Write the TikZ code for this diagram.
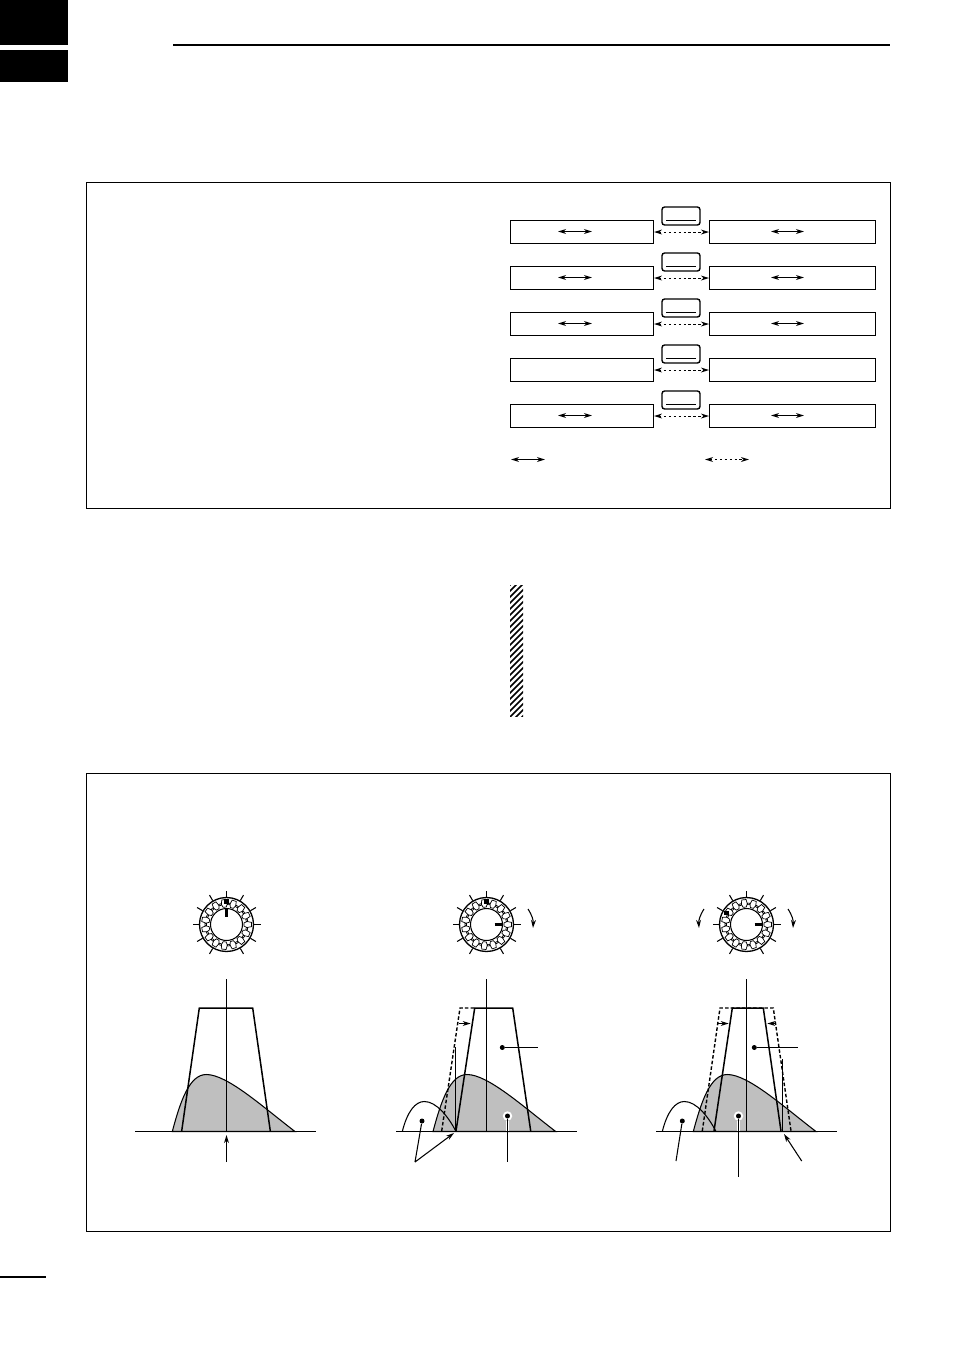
\documentclass[tikz,border=0pt]{standalone}
\usepackage{tikz}
\usetikzlibrary{arrows.meta, positioning}

\tikzset{
  rowbox/.style={draw, rectangle, anchor=north west, inner sep=0pt, line width=.6pt, minimum height=.46cm},
  keybox/.style={draw, rectangle, rounded corners=1.5pt, inner sep=0pt, line width=.8pt, minimum width=.76cm, minimum height=.36cm},
  framebox/.style={draw, rectangle, anchor=north west, inner sep=0pt, line width=.6pt, minimum width=16.08cm},
  dotmark/.style={circle, fill, inner sep=0pt, minimum size=.1cm},
  halomark/.style={circle, fill=white, inner sep=0pt, minimum size=.19cm},
  fine/.style={line width=.6pt},
  edgeline/.style={line width=.85pt},
  dashline/.style={line width=.8pt, dash pattern=on 2pt off 1.2pt},
  dotline/.style={line width=.6pt, dash pattern=on 1.4pt off 1.4pt},
  tip/.style={>={Stealth[length=4.6pt,width=2.8pt]}},
  humpfill/.style={fill=black!25, draw, line width=.6pt},
  wave/.style={line width=.4pt}
}

\begin{document}
\begin{tikzpicture}[x=.02cm, y=-.02cm, tip]
\useasboundingbox (0,0) rectangle (954,1349);

\fill (0,0) rectangle (68,45);
\fill (0,50) rectangle (68,82);
\coordinate (rulea) at (173,45);
\coordinate (ruleb) at (890,45);
\draw[line width=1.2pt] (rulea) -- (ruleb);
\coordinate (foota) at (0,1277);
\coordinate (footb) at (46,1277);
\draw[line width=1.2pt] (foota) -- (footb);

\node[framebox, minimum height=6.52cm] (frametop) at (86,182) {};
\node[framebox, minimum height=9.16cm] (framelow) at (86,773) {};

\foreach \nm/\ty in {a/220,b/266,c/312,d/358,e/404} {
  \node[rowbox, minimum width=2.86cm] (left\nm) at (510,\ty) {};
  \node[rowbox, minimum width=3.32cm] (right\nm) at (709,\ty) {};
  \node[keybox] (key\nm) at (681,\ty-4) {};
  \coordinate (keya\nm) at (666,\ty+.5);
  \coordinate (keyb\nm) at (696,\ty+.5);
  \draw[fine] (keya\nm) -- (keyb\nm);
  \draw[dotline, <->] (left\nm) -- (right\nm);
}
\foreach \nm/\ty in {a/220,b/266,c/312,e/404} {
  \coordinate (lefta\nm) at (558,\ty+11.5);
  \coordinate (leftb\nm) at (592,\ty+11.5);
  \coordinate (righta\nm) at (771,\ty+11.5);
  \coordinate (rightb\nm) at (804,\ty+11.5);
  \draw[fine, <->] (lefta\nm) -- (leftb\nm);
  \draw[fine, <->] (righta\nm) -- (rightb\nm);
}
\coordinate (legenda) at (511,459.5);
\coordinate (legendb) at (545,459.5);
\coordinate (legendc) at (705,459.5);
\coordinate (legendd) at (749,459.5);
\draw[fine, <->] (legenda) -- (legendb);
\draw[dotline, <->] (legendc) -- (legendd);

\begin{scope}
\clip (510,585) rectangle (523,716);
\foreach \hy in {585,591,...,740} {
  \draw[line width=.85pt] (505,\hy+5) -- (528,\hy-18);
}
\end{scope}

\foreach \cx/\nm/\mk/\pk in {226.5/a/-90/-90,486.5/b/-90/0,746.5/c/-150/0} {
  \begin{scope}[shift={(\cx,924.5)}]
    \node[circle, draw, line width=.75pt, inner sep=0pt, minimum size=1.08cm] (outer\nm) at (0,0) {};
    \node[circle, draw, line width=.6pt, inner sep=0pt, minimum size=.64cm] (inner\nm) at (0,0) {};
    \draw[wave] (-5:25)
      \foreach \ag in {0,24,...,336} { -- (\ag-5:25) -- (\ag+5:25) -- (\ag+9:20) -- (\ag+15:20) } -- cycle;
    \draw[wave] (9:21.5)
      \foreach \ag in {0,24,...,336} { -- (\ag+9:21.5) -- (\ag+15:21.5) -- (\ag+19:17.5) -- (\ag+29:17.5) } -- cycle;
    \foreach \tk in {0,30,60,90,120,150,180,210,240,300,330} {
      \coordinate (tick\nm\tk) at (-\tk:34);
      \draw[fine] (outer\nm.\tk) -- (tick\nm\tk);
    }
    \node[fill, inner sep=0pt, minimum size=.09cm] (mark\nm) at (\mk:23) {};
    \coordinate (pointa\nm) at (\pk:8);
    \coordinate (pointb\nm) at (\pk:16);
    \draw[line width=1.7pt] (pointa\nm) -- (pointb\nm);
  \end{scope}
}
\coordinate (turnba) at (528,909);
\coordinate (turnbb) at (533,928);
\coordinate (turnca) at (704,909);
\coordinate (turncb) at (699,928);
\coordinate (turncc) at (788,909);
\coordinate (turncd) at (793,928);
\draw[fine, ->] (turnba) to[bend left=18] (turnbb);
\draw[fine, ->] (turnca) to[bend right=18] (turncb);
\draw[fine, ->] (turncc) to[bend left=18] (turncd);

\foreach \hx in {172.3,433,693.3} {
  \draw[humpfill, shift={(\hx,1131.5)}] (0,0) .. controls (8,-30) and (17,-57) .. (34,-57)
    .. controls (55,-57) and (90,-25) .. (122.7,0) -- cycle;
}
\foreach \hx in {402.3,662.3} {
  \draw[fine, shift={(\hx,1131.5)}] (0,0) .. controls (5,-20) and (13,-30) .. (22,-30)
    .. controls (34,-30) and (46,-15) .. (53.7,0);
}

\draw[edgeline] (181.7,1131) -- (199.3,1008) -- (252.7,1008) -- (270.3,1131);
\draw[dashline] (441.7,1131) -- (460,1008) -- (474.7,1008);
\draw[edgeline] (456,1131) -- (474.7,1008) -- (512.7,1008) -- (530.7,1131);
\draw[dashline] (702.3,1131) -- (720,1008) -- (773.3,1008) -- (791,1131);
\draw[edgeline] (714,1131) -- (732.3,1008) -- (763.3,1008) -- (781,1131);

\coordinate (vertaa) at (226.5,979);
\coordinate (vertab) at (226.5,1131);
\coordinate (vertba) at (486.5,979);
\coordinate (vertbb) at (486.5,1131);
\coordinate (vertca) at (746.5,979);
\coordinate (vertcb) at (746.5,1131);
\coordinate (vertda) at (455.5,1047);
\coordinate (vertdb) at (455.5,1131);
\coordinate (vertea) at (782.5,1059);
\coordinate (verteb) at (782.5,1131);
\draw[fine] (vertaa) -- (vertab);
\draw[fine] (vertba) -- (vertbb);
\draw[fine] (vertca) -- (vertcb);
\draw[fine] (vertda) -- (vertdb);
\draw[fine] (vertea) -- (verteb);

\node[halomark] (halob) at (507.5,1116) {};
\node[halomark] (haloc) at (738.5,1116) {};
\coordinate (halobend) at (507.5,1131);
\coordinate (halocend) at (738.5,1131);
\draw[white, line width=2pt] (halob) -- (halobend);
\draw[white, line width=2pt] (haloc) -- (halocend);

\coordinate (axisaa) at (135,1131.5);
\coordinate (axisab) at (316,1131.5);
\coordinate (axisba) at (396,1131.5);
\coordinate (axisbb) at (577,1131.5);
\coordinate (axisca) at (656,1131.5);
\coordinate (axiscb) at (837,1131.5);
\draw[fine] (axisaa) -- (axisab);
\draw[fine] (axisba) -- (axisbb);
\draw[fine] (axisca) -- (axiscb);

\coordinate (centa) at (226.5,1162);
\coordinate (centb) at (226.5,1135);
\draw[fine, ->] (centa) -- (centb);

\node[dotmark] (passb) at (502.3,1047.5) {};
\coordinate (passbend) at (537.7,1047.5);
\draw[fine] (passb) -- (passbend);
\node[dotmark] (sigb) at (507.5,1116) {};
\coordinate (sigbend) at (507.5,1162);
\draw[fine] (sigb) -- (sigbend);
\node[dotmark] (qrmb) at (422,1121) {};
\coordinate (forkb) at (415,1162);
\coordinate (apexb) at (454,1133);
\draw[fine] (qrmb) -- (forkb);
\draw[fine, ->] (forkb) -- (apexb);
\coordinate (gapba) at (458.7,1023.5);
\coordinate (gapbb) at (470.7,1023.5);
\draw[fine, ->] (gapba) -- (gapbb);

\node[dotmark] (passc) at (754.3,1047.5) {};
\coordinate (passcend) at (797.7,1047.5);
\draw[fine] (passc) -- (passcend);
\node[dotmark] (sigc) at (738.5,1116) {};
\coordinate (sigcend) at (738.5,1177);
\draw[fine] (sigc) -- (sigcend);
\node[dotmark] (qrmc) at (682.3,1121) {};
\coordinate (forkc) at (676,1161);
\draw[fine] (qrmc) -- (forkc);
\coordinate (slopea) at (801.7,1161);
\coordinate (slopeb) at (784,1134);
\draw[fine, ->] (slopea) -- (slopeb);
\coordinate (gapca) at (717.3,1023.5);
\coordinate (gapcb) at (728.7,1023.5);
\coordinate (gapcc) at (776,1023.5);
\coordinate (gapcd) at (767.3,1023.5);
\draw[fine, ->] (gapca) -- (gapcb);
\draw[fine, ->] (gapcc) -- (gapcd);
\end{tikzpicture}
\end{document}
